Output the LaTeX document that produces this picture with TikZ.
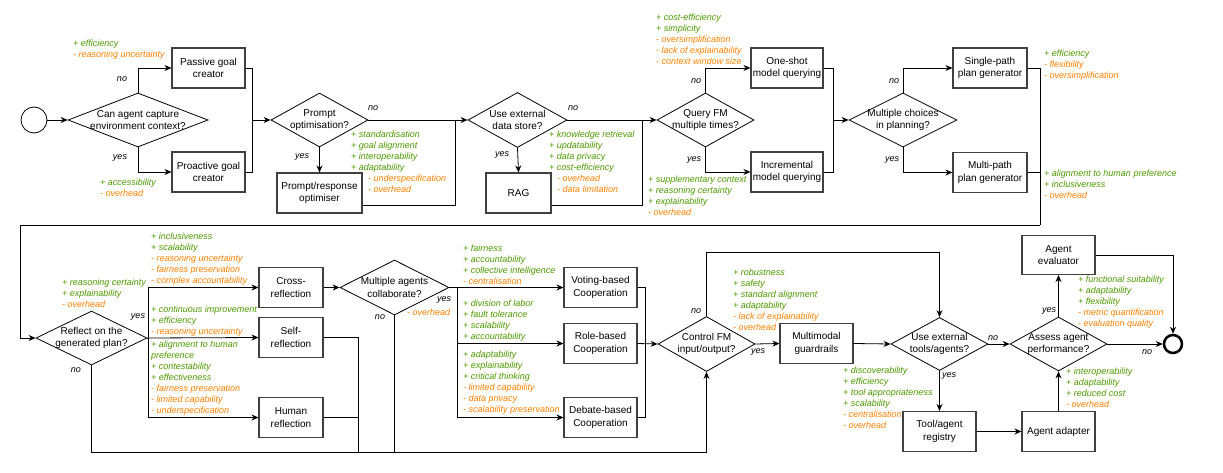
\documentclass[tikz,border=0pt]{standalone}
\usepackage{fontspec}
\setmainfont{Liberation Sans}
\usetikzlibrary{shapes.geometric,arrows.meta}
\definecolor{progreen}{RGB}{77,153,0}
\definecolor{conorange}{RGB}{255,128,0}
\newcommand{\goodpt}[1]{\textcolor{progreen}{#1}}
\newcommand{\badpt}[1]{\textcolor{conorange}{#1}}
\tikzset{
  box/.style={draw=black!75,line width=1.1pt,align=center,minimum width=#1,minimum height=40pt,inner sep=1pt,font=\fontsize{10}{12.5}\selectfont},
  box/.default=73pt,
  decision/.style 2 args={diamond,draw,line width=0.8pt,inner sep=0pt,minimum width=#1,minimum height=#2},
  dlabel/.style={align=center,inner sep=0pt,font=\fontsize{10}{12.5}\selectfont},
  note/.style={anchor=north west,inner sep=0pt,align=left,font=\fontsize{9}{11}\selectfont\itshape},
  yn/.style={inner sep=0pt,font=\fontsize{9}{11}\selectfont\itshape},
  conn/.style={line width=0.8pt},
  arr/.style={conn,-{Stealth[length=7pt,width=6pt]}}
}
\begin{document}
\begin{tikzpicture}[x=1pt,y=-1pt]
\useasboundingbox (0,0) rectangle (1223,473);

\node[circle,draw,line width=0.8pt,minimum size=26pt,inner sep=0pt] (start) at (34,120) {};
\node[decision={140pt}{54pt},label={[dlabel]center:Can agent capture\\environment context?}] (capture) at (138,120) {};
\node[box] (passive) at (208.5,68) {Passive goal\\creator};
\node[box] (proactive) at (208.5,172) {Proactive goal\\creator};
\node[decision={97pt}{54pt},label={[dlabel]center:Prompt\\optimisation?}] (promptq) at (319.5,120) {};
\node[box=85pt] (promptopt) at (319.5,193) {Prompt/response\\optimiser};
\node[decision={99pt}{55pt},label={[dlabel]center:Use external\\data store?}] (storeq) at (517.5,120) {};
\node[box=65pt] (rag) at (518.5,193) {RAG};
\node[decision={97pt}{54pt},label={[dlabel]center:Query FM\\multiple times?}] (queryq) at (705.5,120) {};
\node[box=72pt] (oneshot) at (787,68) {One-shot\\model querying};
\node[box=72pt] (incremental) at (787,172) {Incremental\\model querying};
\node[decision={108pt}{54pt},label={[dlabel]center:Multiple choices\\in planning?}] (choiceq) at (903,120) {};
\node[box=74pt] (single) at (990,68) {Single-path\\plan generator};
\node[box=74pt] (multi) at (990,172.5) {Multi-path\\plan generator};

\node[decision={111pt}{54pt},label={[dlabel]center:Reflect on the\\generated plan?}] (reflectq) at (91.5,338) {};
\node[box=64pt] (cross) at (291,287.5) {Cross-\\reflection};
\node[box=64pt] (self) at (291,337.5) {Self-\\reflection};
\node[box=64pt] (human) at (291,417.5) {Human\\reflection};
\node[decision={109pt}{55pt},label={[dlabel]center:Multiple agents\\collaborate?}] (collabq) at (394.5,287.5) {};
\node[box] (voting) at (600.5,287.5) {Voting-based\\Cooperation};
\node[box] (role) at (600.5,343.5) {Role-based\\Cooperation};
\node[box] (debate) at (600.5,417.5) {Debate-based\\Cooperation};
\node[decision={97pt}{55pt},label={[dlabel]center:Control FM\\input/output?}] (controlq) at (706.5,344) {};
\node[box] (guard) at (816.5,343.5) {Multimodal\\guardrails};
\node[decision={97pt}{53pt},label={[dlabel]center:Use external\\tools/agents?}] (toolq) at (939.5,344) {};
\node[box] (registry) at (939.5,431.5) {Tool/agent\\registry};
\node[box] (adapter) at (1058.5,431.5) {Agent adapter};
\node[decision={97pt}{54pt},label={[dlabel]center:Assess agent\\performance?}] (assessq) at (1058.5,344) {};
\node[box,minimum height=39pt] (evaluator) at (1058.5,255) {Agent\\evaluator};
\node[circle,draw,line width=2.5pt,minimum size=18pt,inner sep=0pt] (stop) at (1173,344) {};

\coordinate (j1) at (252,120);
\coordinate (j2) at (455,120);
\coordinate (j3) at (642,120);
\coordinate (j4) at (833,120);
\coordinate (j5) at (1040,225);
\coordinate (j6) at (20,225);
\coordinate (j7) at (148,338);
\coordinate (j8) at (457,287.5);
\coordinate (j9) at (645,343.5);
\coordinate (j10) at (706.5,452);
\coordinate (j11) at (358,452);
\coordinate (j12) at (939.5,252);

\draw[arr] (start) -- (capture);
\draw[arr] (capture.north) |- (passive.west);
\draw[arr] (capture.south) |- (proactive.west);
\draw[conn] (passive.east) -| (j1);
\draw[conn] (proactive.east) -| (j1);
\draw[arr] (j1) -- (promptq.west);
\draw[arr] (promptq.south) -- (promptopt.north);
\draw[conn] ([yshift=-12pt]promptopt.east) -| (j2);
\draw[arr] (promptq.east) -- (storeq.west);
\draw[arr] (storeq.south) -- (rag.north);
\draw[conn] ([yshift=-12pt]rag.east) -| (j3);
\draw[arr] (storeq.east) -- (queryq.west);
\draw[arr] (queryq.north) |- (oneshot.west);
\draw[arr] (queryq.south) |- (incremental.west);
\draw[conn] (oneshot.east) -| (j4);
\draw[conn] (incremental.east) -| (j4);
\draw[arr] (j4) -- (choiceq.west);
\draw[arr] (choiceq.north) |- (single.west);
\draw[arr] (choiceq.south) |- (multi.west);
\draw[conn] (single.east) -| (j5);
\draw[conn] (multi.east) -| (j5);
\draw[arr] (j5) -- (j6) |- (reflectq.west);

\draw[conn] (reflectq.east) -- (j7);
\draw[arr] (j7) |- (cross.west);
\draw[arr] (j7) -- (self.west);
\draw[arr] (j7) |- (human.west);
\draw[arr] (cross.east) -- (collabq.west);
\draw[conn] (collabq.east) -- (j8);
\draw[arr] (j8) -- (voting.west);
\draw[arr] (j8) |- (role.west);
\draw[arr] (j8) |- (debate.west);
\draw[conn] (voting.east) -| (j9);
\draw[conn] (debate.east) -| (j9);
\draw[arr] (role.east) -- (controlq.west);
\draw[arr] (reflectq.south) |- (j10) -- (controlq.south);
\draw[conn] (self.east) -| (j11);
\draw[conn] (human.east) -| (j11);
\draw[conn] (collabq.south) -- (collabq.south |- j10);
\draw[arr] (controlq.north) |- (j12) -- (toolq.north);
\draw[arr] (controlq.east) -- (guard.west);
\draw[arr] (guard.east) -- (toolq.west);
\draw[arr] (toolq.east) -- (assessq.west);
\draw[arr] (toolq.south) -- (registry.north);
\draw[arr] (registry.east) -- (adapter.west);
\draw[arr] (adapter.north) -- (assessq.south);
\draw[arr] (assessq.north) -- (evaluator.south);
\draw[arr] (evaluator.east) -| (stop.north);
\draw[arr] (assessq.east) -- (stop.west);

\foreach \x/\y/\t [count=\i] in {122/79/no,120/158/yes,373/108/no,302/157/yes,573/108/no,502/155/yes,
  696/81/no,694/160/yes,894/81/no,892/160/yes,138/317/yes,76/370/no,444/300/yes,380/317/no,
  696/311/no,758/352/yes,993/338/no,949/376/yes,1049/311/yes,1147/352/no}
  \node[yn] (yn\i) at (\x,\y) {\t};

\node[note] (n1) at (73,39.5) {\goodpt{+ efficiency}\\\badpt{- reasoning uncertainty}};
\node[note] (n2) at (100,178.5) {\goodpt{+ accessibility}\\\badpt{- overhead}};
\node[note] (n3) at (351,130.5) {\goodpt{+ standardisation}\\\goodpt{+ goal alignment}\\\goodpt{+ interoperability}\\\goodpt{+ adaptability}\\\hspace*{17pt}\badpt{- underspecification}\\\hspace*{17pt}\badpt{- overhead}};
\node[note] (n4) at (549,130.5) {\goodpt{+ knowledge retrieval}\\\goodpt{+ updatability}\\\goodpt{+ data privacy}\\\goodpt{+ cost-efficiency}\\\hspace*{8pt}\badpt{- overhead}\\\hspace*{8pt}\badpt{- data limitation}};
\node[note] (n5) at (656,13.5) {\goodpt{+ cost-efficiency}\\\goodpt{+ simplicity}\\\badpt{- oversimplification}\\\badpt{- lack of explainability}\\\badpt{- context window size}};
\node[note] (n6) at (648,175.5) {\goodpt{+ supplementary context}\\\goodpt{+ reasoning certainty}\\\goodpt{+ explainability}\\\badpt{- overhead}};
\node[note] (n7) at (1044,49.5) {\goodpt{+ efficiency}\\\badpt{- flexibility}\\\badpt{- oversimplification}};
\node[note] (n8) at (1044,169.5) {\goodpt{+ alignment to human preference}\\\goodpt{+ inclusiveness}\\\badpt{- overhead}};
\node[note] (n9) at (62,278.5) {\goodpt{+ reasoning certainty}\\\goodpt{+ explainability}\\\badpt{- overhead}};
\node[note] (n10) at (151,232.5) {\goodpt{+ inclusiveness}\\\goodpt{+ scalability}\\\badpt{- reasoning uncertainty}\\\badpt{- fairness preservation}\\\badpt{- complex accountability}};
\node[note] (n11) at (151,305.5) {\goodpt{+ continuous improvement}\\\goodpt{+ efficiency}\\\badpt{- reasoning uncertainty}};
\node[note] (n12) at (151,340.5) {\goodpt{+ alignment to human}\\\goodpt{preference}\\\goodpt{+ contestability}\\\goodpt{+ effectiveness}\\\badpt{- fairness preservation}\\\badpt{- limited capability}\\\badpt{- underspecification}};
\node[note] (n13) at (407,308.5) {\badpt{- overhead}};
\node[note] (n14) at (463,244.5) {\goodpt{+ fairness}\\\goodpt{+ accountability}\\\goodpt{+ collective intelligence}\\\badpt{- centralisation}};
\node[note] (n15) at (463,299.5) {\goodpt{+ division of labor}\\\goodpt{+ fault tolerance}\\\goodpt{+ scalability}\\\goodpt{+ accountability}};
\node[note] (n16) at (463,350.5) {\goodpt{+ adaptability}\\\goodpt{+ explainability}\\\goodpt{+ critical thinking}\\\badpt{- limited capability}\\\badpt{- data privacy}\\\badpt{- scalability preservation}};
\node[note] (n17) at (733,268.5) {\goodpt{+ robustness}\\\goodpt{+ safety}\\\goodpt{+ standard alignment}\\\goodpt{+ adaptability}\\\badpt{- lack of explainability}\\\badpt{- overhead}};
\node[note] (n18) at (843,366.5) {\goodpt{+ discoverability}\\\goodpt{+ efficiency}\\\goodpt{+ tool appropriateness}\\\goodpt{+ scalability}\\\badpt{- centralisation}\\\badpt{- overhead}};
\node[note] (n19) at (1078,275.5) {\goodpt{+ functional suitability}\\\goodpt{+ adaptability}\\\goodpt{+ flexibility}\\\badpt{- metric quantification}\\\badpt{- evaluation quality}};
\node[note] (n20) at (1066,367.5) {\goodpt{+ interoperability}\\\goodpt{+ adaptability}\\\goodpt{+ reduced cost}\\\badpt{- overhead}};
\end{tikzpicture}
\end{document}
